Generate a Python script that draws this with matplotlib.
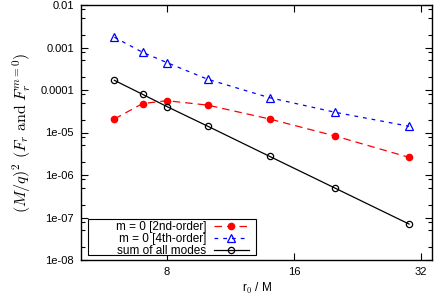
import matplotlib
matplotlib.use("Agg")
import matplotlib.pyplot as plt
from matplotlib.ticker import FixedLocator, NullFormatter, LogLocator
from matplotlib.patches import Rectangle

plt.rcParams['font.family'] = ['Liberation Sans', 'DejaVu Sans']
plt.rcParams['mathtext.fontset'] = 'cm'

r0 = [6, 7, 8, 10, 14, 20, 30]
m0_2nd = [2.08e-5, 4.8e-5, 5.6e-5, 4.4e-5, 2.08e-5, 8.3e-6, 2.6e-6]
m0_4th = [1.74e-3, 7.7e-4, 4.4e-4, 1.78e-4, 6.6e-5, 3.0e-5, 1.4e-5]
sum_all = [1.69e-4, 7.9e-5, 4.06e-5, 1.4e-5, 2.75e-6, 4.94e-7, 7.0e-8]

labels = ['m = 0 [2nd-order]', 'm = 0 [4th-order]', 'sum of all modes']
xticks = [8, 16, 32]
yticks = [1e-8, 1e-7, 1e-6, 1e-5, 1e-4, 1e-3, 1e-2]
ytick_labels = ['1e-08', '1e-07', '1e-06', '1e-05', '0.0001', '0.001', '0.01']

fig = plt.figure(figsize=(4.36, 2.96), dpi=100)
ax = fig.add_axes([81/436, 1-260/296, (432-81)/436, (260-5)/296])

ax.plot(r0, m0_2nd, color='#ff0000', lw=0.9, dashes=(6, 4), marker='o',
        ms=4.5, mfc='#ff0000', mec='#ff0000', label=labels[0])
ax.plot(r0, m0_4th, color='#0000ff', lw=0.9, dashes=(3, 4), marker='^',
        ms=5.5, mfc='none', mec='#0000ff', mew=0.9, label=labels[1])
ax.plot(r0, sum_all, color='black', lw=0.9, marker='o',
        ms=4.5, mfc='none', mec='black', mew=0.9, label=labels[2])

ax.set_xscale('log', base=2)
ax.set_yscale('log')
ax.set_xlim(5, 34)
ax.set_ylim(1e-8, 1e-2)
ax.xaxis.set_major_locator(FixedLocator(xticks))
ax.set_xticklabels([str(t) for t in xticks])
ax.xaxis.set_minor_locator(FixedLocator([]))
ax.xaxis.set_minor_formatter(NullFormatter())
ax.yaxis.set_major_locator(FixedLocator(yticks))
ax.set_yticklabels(ytick_labels)
ax.yaxis.set_minor_locator(LogLocator(base=10, subs=(2, 5, 8), numticks=20))
ax.yaxis.set_minor_formatter(NullFormatter())

ax.tick_params(which='both', direction='in', top=True, right=True,
               labelsize=8, width=0.8)
ax.tick_params(which='major', length=5, pad=5)
ax.tick_params(which='minor', length=3)
for s in ax.spines.values():
    s.set_linewidth(1.0)

ax.set_xlabel(r'r$_0$ / M', fontsize=8.5, labelpad=3)
ax.set_ylabel(r'$(M/q)^2\ (F_r\ \mathrm{and}\ F_r^{m=0})$', fontsize=11.5, labelpad=5)

leg = ax.legend(loc='lower right', bbox_to_anchor=((249-81)/351, 3/255), markerfirst=False,
                fontsize=8.5, frameon=False,
                handlelength=3.0, handletextpad=0.6, labelspacing=0.0,
                borderpad=0.0, borderaxespad=0.0)
frame = Rectangle(((88-81)/351, 5/255), (256-88)/351, 36/255, transform=ax.transAxes,
                  fill=True, facecolor='white', edgecolor='black', lw=0.8, zorder=4)
ax.add_patch(frame)
leg.set_zorder(5)

fig.savefig('out.png', dpi=100)
